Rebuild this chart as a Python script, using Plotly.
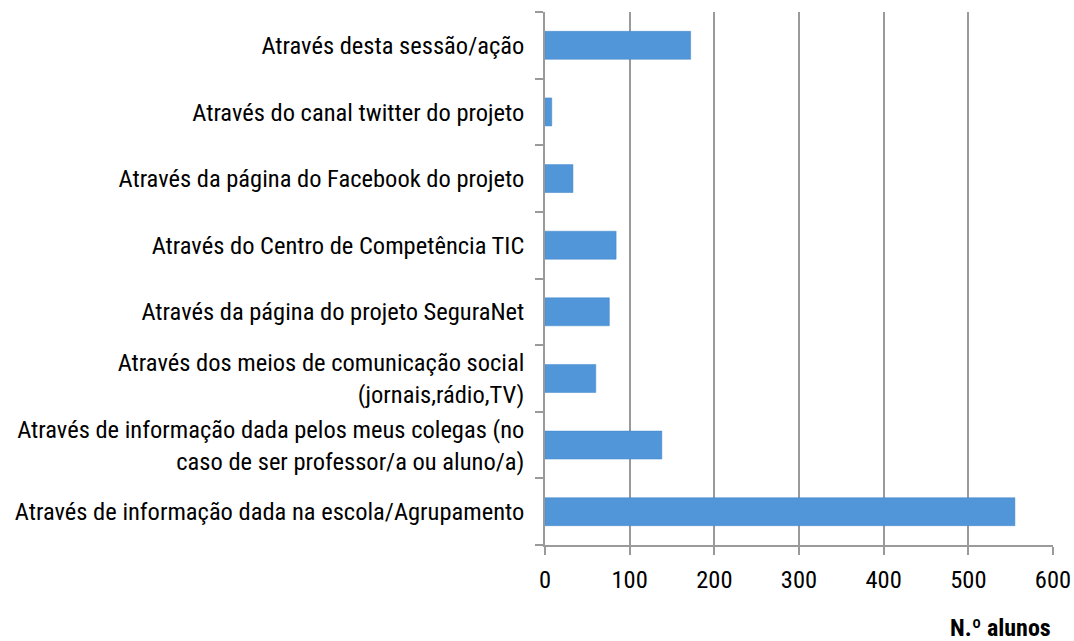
import plotly.graph_objects as go

categories = [
    "Através de informação dada na escola/Agrupamento",
    "Através de informação dada pelos meus colegas (no<br>caso de ser professor/a ou aluno/a)",
    "Através dos meios de comunicação social<br>(jornais,rádio,TV)",
    "Através da página do projeto SeguraNet",
    "Através do Centro de Competência TIC",
    "Através da página do Facebook do projeto",
    "Através do canal twitter do projeto",
    "Através desta sessão/ação",
]
alunos = [555, 138, 60, 76, 84, 33, 8, 172]
x_ticks = [0, 100, 200, 300, 400, 500, 600]

font_family = "Liberation Sans Narrow, Arial Narrow, Roboto Condensed, Liberation Sans, sans-serif"

fig = go.Figure(go.Bar(
    x=alunos, y=categories, orientation='h',
    marker=dict(color='#5096d8', line=dict(color='#4286cc', width=0.5)),
))

fig.update_layout(
    width=1074, height=641,
    margin=dict(l=545, r=21, t=12, b=96),
    plot_bgcolor='white', paper_bgcolor='white',
    bargap=0.58, showlegend=False,
    font=dict(family=font_family, size=24.5, color='#000000'),
)
fig.update_xaxes(
    range=[0, 600], tickvals=x_ticks, automargin=False,
    showgrid=True, gridcolor='#9a9a9a', gridwidth=1.5,
    showline=True, linecolor='#9a9a9a', linewidth=1.5,
    ticks='outside', ticklen=8, tickcolor='#9a9a9a', tickwidth=1.5,
    ticklabelstandoff=4, zeroline=False,
)
fig.update_yaxes(
    categoryorder='array', categoryarray=categories, automargin=False,
    showline=True, linecolor='#9a9a9a', linewidth=1.5,
    ticks='outside', ticklen=8, tickcolor='#9a9a9a', tickwidth=1.5,
    tickson='boundaries', ticklabelstandoff=14, showgrid=False,
)
fig.add_annotation(
    text="<b>N.º alunos</b>", x=1, y=0, xref='paper', yref='paper',
    xanchor='right', yanchor='middle', yshift=-83, showarrow=False,
    font=dict(family=font_family, size=24),
)

# drop the default body margin so the figure fills the window exactly
fig.write_html("out.html", config={'displayModeBar': False},
               post_script="document.body.style.margin='0';")
